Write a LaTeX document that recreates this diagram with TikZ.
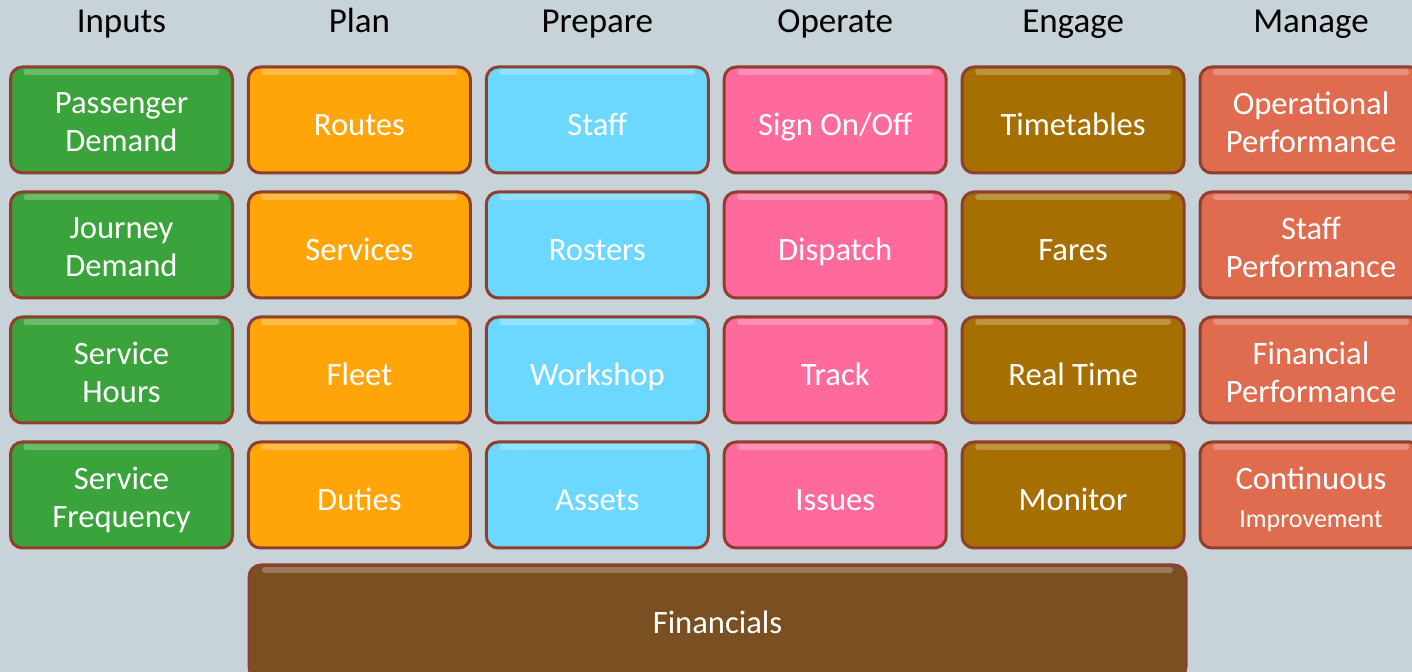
\documentclass[tikz,border=0pt]{standalone}
\usepackage{fontspec}
\setmainfont{Carlito}
\usepackage{xcolor}
\definecolor{bg}{HTML}{C7D2D9}
\definecolor{rim}{HTML}{8E3F2E}
\definecolor{inputs}{HTML}{3BA33C}
\definecolor{plan}{HTML}{FFA50A}
\definecolor{prepare}{HTML}{6DD8FF}
\definecolor{operate}{HTML}{FF6A9C}
\definecolor{engage}{HTML}{A66F02}
\definecolor{manage}{HTML}{E06C50}
\definecolor{finance}{HTML}{7A5022}
\tikzset{
    tile/.style={draw=rim, line width=1.5pt, rounded corners=6pt, minimum width=111pt,
        minimum height=53pt, inner sep=0pt,
        path picture={
            \draw[white, opacity=.25, line width=3pt, line cap=round]
                ([xshift=8pt,yshift=-2.5pt]path picture bounding box.north west) --
                ([xshift=-8pt,yshift=-2.5pt]path picture bounding box.north east);
        }},
    tiletext/.style={align=center, text=white, inner sep=0pt,
        font=\fontsize{16.3}{19}\selectfont,
        execute at begin node=\strut, execute at end node=\strut},
    head/.style={text=black, anchor=base, font=\fontsize{17.5}{21}\selectfont}
}

\begin{document}
\begin{tikzpicture}[x=0.5pt,y=-0.5pt]
        \fill[bg] (0,0) rectangle (1412,672);
        \clip (0,0) rectangle (1412,672);
        \foreach \col/\hue/\head/\items in {
            1/inputs/Inputs/{{Passenger\\Demand},{Journey\\Demand},{Service\\Hours},{Service\\Frequency}},
            2/plan/Plan/{Routes,Services,Fleet,Duties},
            3/prepare/Prepare/{Staff,Rosters,Workshop,Assets},
            4/operate/Operate/{Sign On/Off,Dispatch,Track,Issues},
            5/engage/Engage/{Timetables,Fares,Real Time,Monitor},
            6/manage/Manage/{{Operational\\Performance},{Staff\\Performance},{Financial\\Performance},{Continuous\\{\fontsize{13}{15}\selectfont Improvement}}}}{
            \pgfmathsetmacro{\cx}{121.5+237.9*(\col-1)}
            \node[head] (h\col) at (\cx,33) {\head};
            \foreach \txt [count=\row] in \items{
                \node[tile, fill=\hue] (t\col\row) at (\cx,{120+125*(\row-1)}) {};
                \node[tiletext] (l\col\row) at ([yshift=-4pt]t\col\row.center) {\txt};
            }
        }
        \node[tile, fill=finance, minimum width=468.5pt, minimum height=57pt] (fin) at (717.5,622) {};
        \node[tiletext] (lfin) at ([yshift=-2pt]717.5,622) {Financials};
    \end{tikzpicture}
\end{document}
